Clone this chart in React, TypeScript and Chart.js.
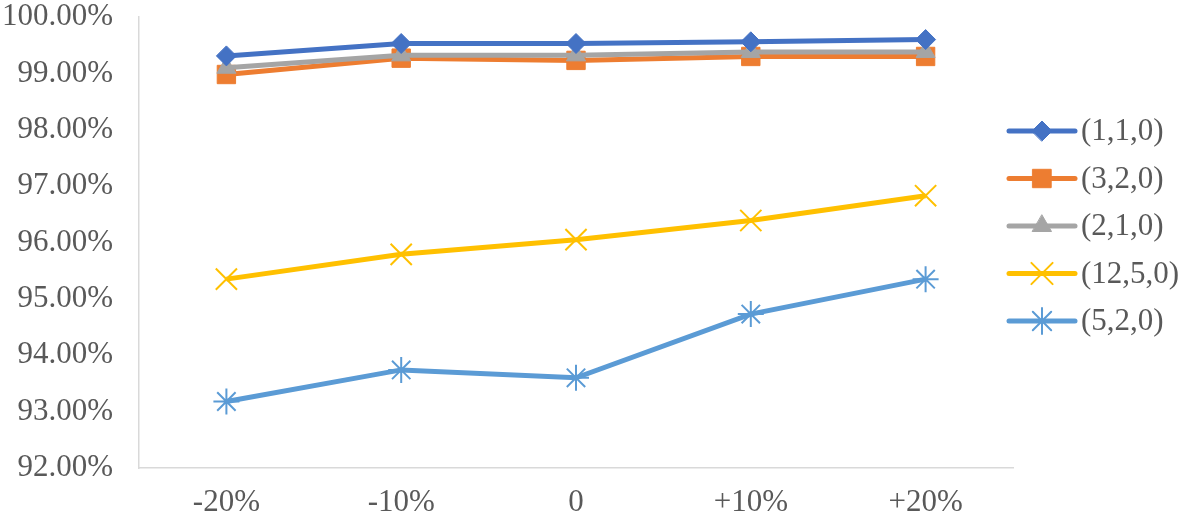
import React, { useEffect, useRef } from 'react';
import { Chart, registerables } from 'chart.js';
import { drawPoint } from 'chart.js/helpers';

Chart.register(...registerables);

const categories = ['-20%', '-10%', '0', '+10%', '+20%'];
const seriesNames = ['(1,1,0)', '(3,2,0)', '(2,1,0)', '(12,5,0)', '(5,2,0)'];
const s110 = [99.31, 99.53, 99.53, 99.56, 99.6];
const s320 = [98.98, 99.27, 99.23, 99.3, 99.3];
const s210 = [99.1, 99.32, 99.32, 99.38, 99.38];
const s1250 = [95.35, 95.79, 96.05, 96.39, 96.83];
const s520 = [93.18, 93.74, 93.6, 94.73, 95.35];
const yMin = 92;
const yMax = 100;
const yStep = 1;

const FONT = '"Liberation Serif", "Times New Roman", serif';
const TEXT = '#595959';

const legendPlugin = {
  id: 'lineLegend',
  afterDraw(chart: any) {
    const ctx = chart.ctx;
    const area = chart.chartArea;
    const x0 = area.right - 4;
    const x1 = x0 + 66;
    const xm = (x0 + x1) / 2;
    const yStart = 131;
    const gap = 47.5;
    chart.data.datasets.forEach((ds: any, i: number) => {
      const y = yStart + i * gap;
      ctx.save();
      ctx.strokeStyle = ds.borderColor;
      ctx.lineWidth = 5;
      ctx.lineCap = 'round';
      ctx.beginPath();
      ctx.moveTo(x0, y);
      ctx.lineTo(x1, y);
      ctx.stroke();
      ctx.fillStyle = ds.pointBackgroundColor;
      ctx.strokeStyle = ds.pointBorderColor;
      ctx.lineWidth = ds.pointBorderWidth;
      drawPoint(ctx, { pointStyle: ds.pointStyle, radius: ds.pointRadius, rotation: 0, borderWidth: ds.pointBorderWidth }, xm, y);
      ctx.fillStyle = TEXT;
      ctx.font = `31px ${FONT}`;
      ctx.textBaseline = 'middle';
      ctx.textAlign = 'left';
      ctx.fillText(ds.label, x1 + 6, y + 1);
      ctx.restore();
    });
  },
};

export default function App() {
  const ref = useRef<HTMLCanvasElement>(null);
  useEffect(() => {
    if (!ref.current) return;
    const mk = (label: string, data: number[], color: string, style: string, radius: number, bw: number, fill: string, order: number) => ({
      label,
      data,
      borderColor: color,
      backgroundColor: color,
      borderWidth: 5,
      pointStyle: style,
      pointRadius: radius,
      pointHoverRadius: radius,
      pointBorderWidth: bw,
      pointBackgroundColor: fill,
      pointBorderColor: color,
      tension: 0,
      order,
    });
    const chart = new Chart(ref.current, {
      type: 'line',
      data: {
        labels: categories,
        datasets: [
          mk(seriesNames[0], s110, '#4472C4', 'rectRot', 10, 1, '#4472C4', 0),
          mk(seriesNames[1], s320, '#ED7D31', 'rect', 13, 1, '#ED7D31', 2),
          mk(seriesNames[2], s210, '#A5A5A5', 'triangle', 11, 1, '#A5A5A5', 1),
          mk(seriesNames[3], s1250, '#FFC000', 'crossRot', 15, 2, '#FFC000', 3),
          mk(seriesNames[4], s520, '#5B9BD5', 'star', 13, 2, '#5B9BD5', 4),
        ],
      },
      options: {
        responsive: false,
        animation: false,
        layout: { padding: { top: 14, right: 168, left: 0, bottom: 0 } },
        plugins: { legend: { display: false }, tooltip: { enabled: false } },
        scales: {
          x: {
            offset: true,
            grid: { display: false, drawTicks: false },
            border: { display: true, color: '#D9D9D9', width: 1.5 },
            ticks: { color: TEXT, font: { family: FONT, size: 31 }, padding: 16 },
            afterFit: (s: any) => { s.height = 53; s.paddingLeft = 0; s.paddingRight = 0; },
          },
          y: {
            min: yMin,
            max: yMax,
            grid: { display: false, drawTicks: false },
            border: { display: true, color: '#D9D9D9', width: 1.5 },
            ticks: {
              stepSize: yStep,
              color: TEXT,
              font: { family: FONT, size: 31 },
              padding: 26,
              callback: (v: any) => Number(v).toFixed(2) + '%',
            },
            afterFit: (s: any) => { s.width = 139; s.paddingTop = 0; s.paddingBottom = 0; },
          },
        },
      },
      plugins: [legendPlugin],
    } as any);
    return () => chart.destroy();
  }, []);
  return (
    <div style={{ position: 'absolute', left: 0, top: 0, width: 1181, height: 521, background: '#fff' }}>
      <canvas ref={ref} width={1181} height={521} />
    </div>
  );
}
